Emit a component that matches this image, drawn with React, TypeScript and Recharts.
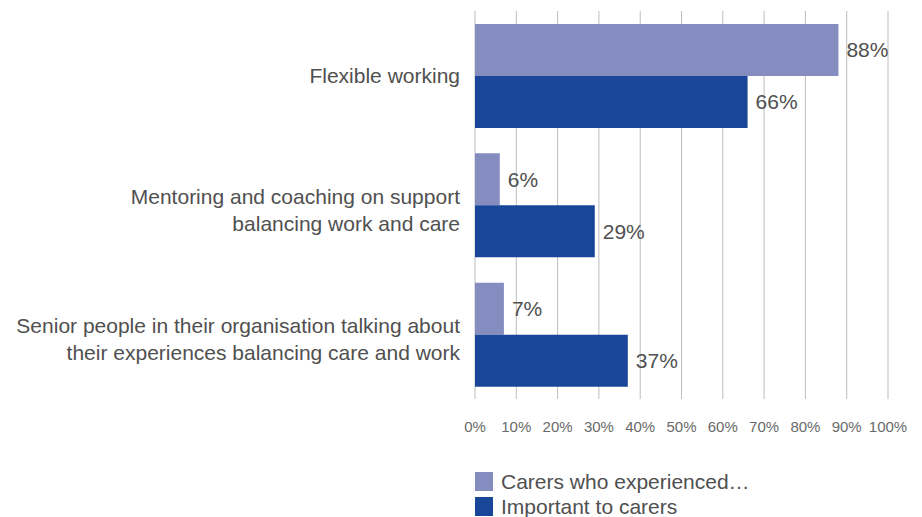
import { BarChart, Bar, XAxis, YAxis, CartesianGrid, Legend, LabelList } from "recharts"

const categories = [
  "Flexible working",
  "Mentoring and coaching on support\nbalancing work and care",
  "Senior people in their organisation talking about\ntheir experiences balancing care and work",
]
const experienced = [88, 6, 7]
const important = [66, 29, 37]
const xTicks = [0, 10, 20, 30, 40, 50, 60, 70, 80, 90, 100]
const seriesNames = ["Carers who experienced…", "Important to carers"]

const data = categories.map((name, i) => ({
  name,
  experienced: experienced[i],
  important: important[i],
}))

const FONT = "'Liberation Sans', Arial, Helvetica, sans-serif"
const LIGHT = "#858cc0"
const DARK = "#1a4699"
const TEXT = "#505050"

function CategoryTick({ x, y, payload }: any) {
  const lines = String(payload.value).split("\n")
  const lineH = 27
  const shift = lines.length > 1 ? 5 : 0
  return (
    <text x={x} y={y} textAnchor="end" fill={TEXT} fontSize={21} fontFamily={FONT}>
      {lines.map((l, i) => (
        <tspan key={i} x={x} y={y + shift + (i - (lines.length - 1) / 2) * lineH} dy="0.35em">
          {l}
        </tspan>
      ))}
    </text>
  )
}

function LegendBox() {
  const colors = [LIGHT, DARK]
  return (
    <div style={{ fontFamily: FONT, fontSize: 21, color: TEXT }}>
      {seriesNames.map((n, i) => (
        <div key={n} style={{ display: "flex", alignItems: "center", height: 25, lineHeight: "25px" }}>
          <span style={{ width: 18, height: 19, background: colors[i], marginRight: 8, display: "inline-block" }} />
          <span>{n}</span>
        </div>
      ))}
    </div>
  )
}

export default function App() {
  return (
    <div style={{ position: "absolute", left: 0, top: 0, width: 922, height: 517, background: "#fff", overflow: "hidden" }}>
      <BarChart
        width={922}
        height={517}
        data={data}
        layout="vertical"
        margin={{ top: 11, right: 34, bottom: 88, left: 0 }}
        barCategoryGap={12}
        barGap={0}
      >
        <CartesianGrid horizontal={false} stroke="#bdbdbd" />
        <XAxis
          type="number"
          domain={[0, 100]}
          ticks={xTicks}
          interval={0}
          tickFormatter={(v) => `${v}%`}
          axisLine={false}
          tickLine={false}
          tickMargin={16}
          height={30}
          tick={{ fill: "#6a6a6a", fontSize: 15, fontFamily: FONT }}
        />
        <YAxis
          type="category"
          dataKey="name"
          width={475}
          axisLine={false}
          tickLine={false}
          tickMargin={9}
          tick={<CategoryTick />}
        />
        <Legend
          layout="horizontal"
          verticalAlign="middle"
          align="center"
          content={<LegendBox />}
          wrapperStyle={{ top: 469, left: 475, width: 420 }}
        />
        <Bar dataKey="experienced" name={seriesNames[0]} fill={LIGHT} barSize={52} isAnimationActive={false}>
          <LabelList dataKey="experienced" position="right" offset={8} formatter={(v: any) => `${v}%`}
            fill={TEXT} fontSize={21} fontFamily={FONT} />
        </Bar>
        <Bar dataKey="important" name={seriesNames[1]} fill={DARK} barSize={52} isAnimationActive={false}>
          <LabelList dataKey="important" position="right" offset={8} formatter={(v: any) => `${v}%`}
            fill={TEXT} fontSize={21} fontFamily={FONT} />
        </Bar>
      </BarChart>
    </div>
  )
}
